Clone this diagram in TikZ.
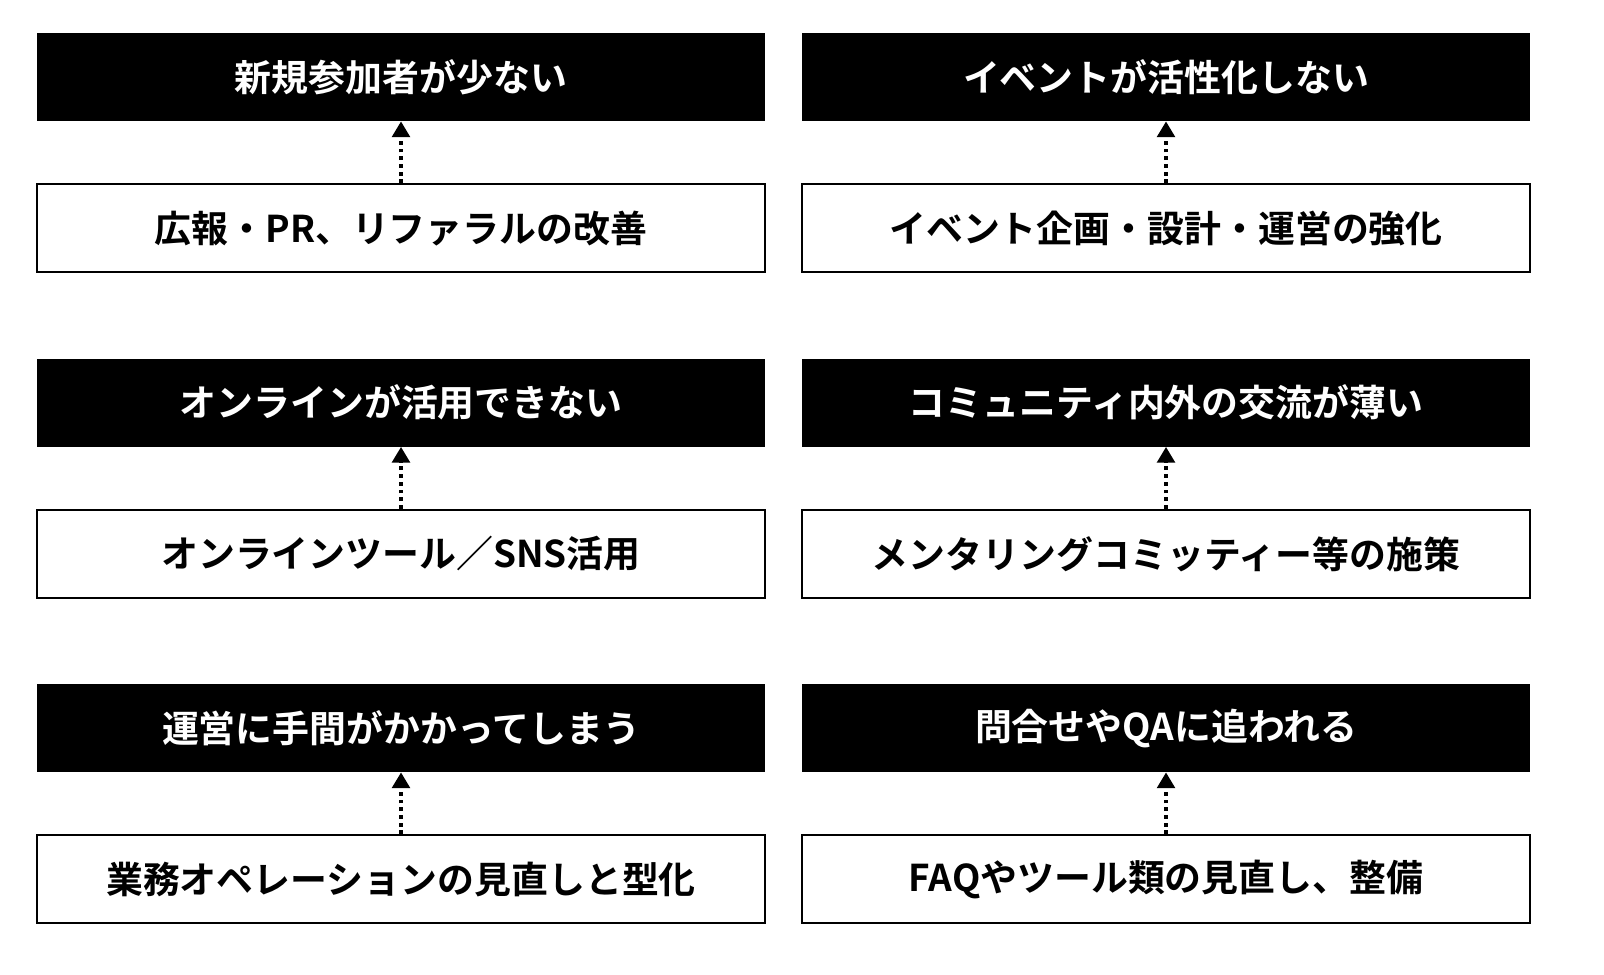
\documentclass[tikz,border=0pt]{standalone}
\usepackage{fontspec}
\newfontfamily\jpfont{Noto Sans CJK JP Bold}
\usetikzlibrary{positioning,arrows.meta}
\tikzset{issue/.style={fill=black, text=white, minimum width=14.56cm, minimum height=1.76cm, inner sep=0pt, font=\jpfont\fontsize{21}{25}\selectfont},
         measure/.style={draw=black, line width=1.2pt, fill=white, minimum width=14.56cm, minimum height=1.76cm, inner sep=0pt, font=\jpfont\fontsize{21}{25}\selectfont},
         cause/.style={line width=2.2pt, dash pattern=on 2.2pt off 2.2pt, -{Triangle[length=9pt,width=10pt]}}}
\begin{document}
\begin{tikzpicture}[x=0.02cm,y=-0.02cm]
\useasboundingbox (0,0) rectangle (1604,974);
% left column
\node[issue] (i1) at (401,77) {新規参加者が少ない};
\node[measure, below=1.24cm of i1] (m1) {広報・PR、リファラルの改善};
\node[issue] (i3) at (401,402.5) {オンラインが活用できない};
\node[measure, below=1.24cm of i3] (m3) {オンラインツール／SNS活用};
\node[issue] (i5) at (401,728) {運営に手間がかかってしまう};
\node[measure, below=1.24cm of i5] (m5) {業務オペレーションの見直しと型化};
% right column
\node[issue] (i2) at (1166,77) {イベントが活性化しない};
\node[measure, below=1.24cm of i2] (m2) {イベント企画・設計・運営の強化};
\node[issue] (i4) at (1166,402.5) {コミュニティ内外の交流が薄い};
\node[measure, below=1.24cm of i4] (m4) {メンタリングコミッティー等の施策};
\node[issue] (i6) at (1166,728) {問合せやQAに追われる};
\node[measure, below=1.24cm of i6] (m6) {FAQやツール類の見直し、整備};
\foreach \k in {1,...,6}
  \draw[cause] (m\k.north) -- (i\k.south);
\end{tikzpicture}
\end{document}
